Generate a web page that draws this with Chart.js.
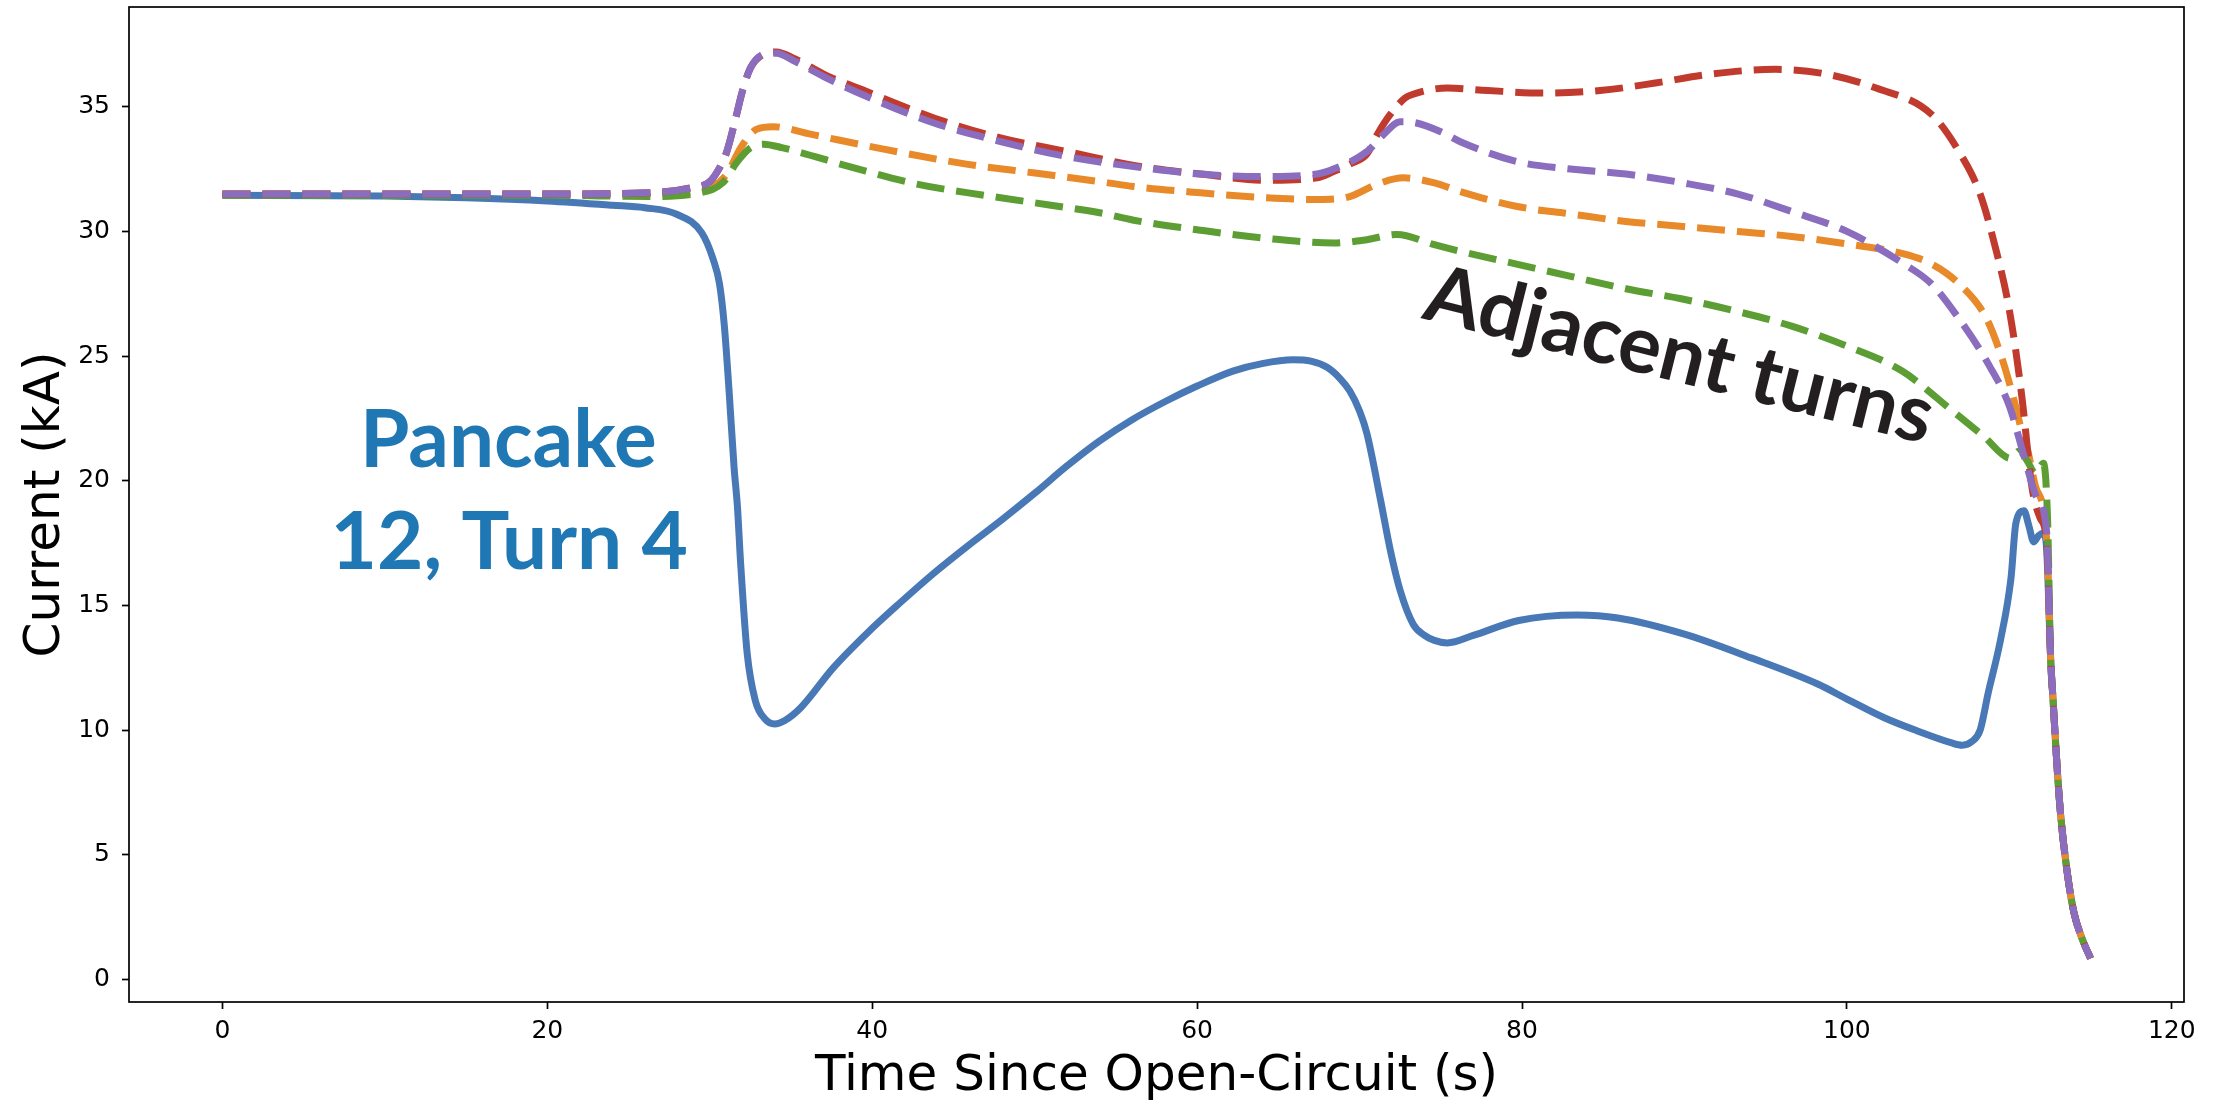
<!DOCTYPE html>
<html>
<head>
<meta charset="utf-8">
<title>Current after open-circuit</title>
<script src="https://cdn.jsdelivr.net/npm/chart.js@4.4.1/dist/chart.umd.min.js"></script>
<style>
  html, body { margin: 0; padding: 0; background: #fff; }
  canvas { display: block; }
</style>
</head>
<body>
<canvas id="chart" width="2218" height="1104"></canvas>
<script>
// tick labels
const xTicks = [0, 20, 40, 60, 80, 100, 120];
const yTicks = [0, 5, 10, 15, 20, 25, 30, 35];

// Pancake 12, Turn 4 (solid blue)
const tPancake = [0, 10, 15, 20, 24, 26, 28, 29.5, 30.2, 30.6, 30.9, 31.2, 31.5, 31.7, 31.9, 32.3, 32.8, 33.4, 34.0, 34.6,
  35.6, 37.6, 39.7, 41.7, 43.8, 45.8, 48, 50, 52, 54, 56, 58.1, 60, 62.2, 64, 65.9, 67, 68, 68.8, 69.4,
  70, 70.45, 71.3, 71.9, 72.5, 73.3, 74.0, 74.6, 75.4, 77.0, 79.8, 83.4, 85.9, 90, 94.1, 98.2, 100, 102.3, 104.3, 106.4,
  107.1, 107.7, 108.2, 108.7, 109.45, 110.1, 110.4, 110.9, 111.2, 111.5, 111.8, 112.1, 112.3,
  112.54, 112.7, 112.95, 113.15, 113.56, 113.97, 114.5, 115.0];
const iPancake = [31.45, 31.42, 31.35, 31.22, 31.05, 30.95, 30.68, 29.95, 28.9, 27.9, 26.2, 23.5, 20.5, 19.0, 16.7, 13.1, 11.2, 10.45, 10.25, 10.38,
  10.9, 12.5, 13.9, 15.1, 16.3, 17.35, 18.45, 19.5, 20.6, 21.6, 22.45, 23.2, 23.8, 24.4, 24.7, 24.85, 24.8, 24.55, 24.1, 23.6,
  22.8, 21.9, 19.2, 17.2, 15.6, 14.25, 13.8, 13.6, 13.5, 13.8, 14.4, 14.62, 14.5, 13.85, 12.9, 11.85, 11.25, 10.5, 9.98, 9.5,
  9.4, 9.55, 10.0, 11.5, 13.6, 16.1, 18.3, 18.8, 18.2, 17.55, 17.8, 17.9, 17.2,
  12.9, 11.1, 8.4, 6.65, 4.3, 2.7, 1.6, 0.85];

// common final discharge of the adjacent turns
const tTail = [112.54, 112.7, 112.95, 113.15, 113.56, 113.97, 114.5, 115.0];
const iTail = [12.9, 11.1, 8.4, 6.65, 4.3, 2.7, 1.6, 0.85];

// adjacent turns (dashed)
const tOrange = [0, 20, 26.3, 29, 30.2, 31.05, 31.9, 32.9, 33.9, 36.2, 40.7, 45.8, 49.9, 54.0, 56.1, 60.2, 64.3, 67.4, 69.4, 71.1,
  72.7, 74.6, 76.2, 79.7, 83.0, 86.4, 89.9, 93.3, 96.6, 100, 103.5, 105.2, 106.9, 108.6, 109.6, 110.3, 110.8, 111.1, 111.6, 112.3];
const iOrange = [31.5, 31.5, 31.52, 31.6, 31.8, 32.3, 33.35, 34.1, 34.2, 33.9, 33.3, 32.7, 32.35, 32.0, 31.8, 31.55, 31.35, 31.28, 31.4, 31.9,
  32.15, 31.95, 31.6, 31.0, 30.7, 30.4, 30.2, 30.0, 29.8, 29.5, 29.1, 28.7, 27.9, 26.5, 24.8, 23.2, 21.9, 21.3, 19.8, 17.6];

const tGreen = [0, 20, 26.3, 29.4, 30.8, 31.7, 32.5, 33.3, 34.5, 38.6, 42.75, 46.9, 51.0, 54.0, 56.1, 60.2, 64.3, 68.4, 70.45, 72.3,
  74.6, 76.2, 79.6, 83.0, 86.4, 89.8, 93.2, 96.6, 100.0, 103.4, 106.5, 108.4, 110.1, 110.6, 111.1, 111.6, 112.1, 112.35];
const iGreen = [31.45, 31.45, 31.4, 31.55, 31.95, 32.8, 33.35, 33.5, 33.35, 32.6, 31.9, 31.45, 31.05, 30.75, 30.45, 30.05, 29.72, 29.54, 29.67, 29.88,
  29.47, 29.2, 28.7, 28.2, 27.7, 27.3, 26.8, 26.2, 25.4, 24.4, 22.8, 21.8, 20.9, 21.2, 20.8, 20.3, 20.7, 18.5];

const tRed = [0, 20, 26.3, 28.8, 30.0, 30.6, 31.05, 31.6, 32.0, 32.5, 33.3, 34.1, 35.15, 37.2, 39.7, 43.8, 47.9, 52.0, 56.1, 60.2,
  64.3, 67.4, 68.4, 69.4, 70.45, 71.1, 71.9, 72.8, 73.3, 74.5, 75.4, 77.9, 81.3, 84.8, 88.2, 91.5, 95.6, 98.4, 101.8, 105.2,
  106.9, 108.2, 109.2, 109.9, 110.4, 110.8, 111.4, 111.9, 112.3];
const iRed = [31.5, 31.5, 31.55, 31.75, 32.0, 32.55, 33.2, 34.55, 35.6, 36.55, 37.1, 37.2, 36.95, 36.25, 35.6, 34.55, 33.75, 33.2, 32.65, 32.3,
  32.05, 32.15, 32.4, 32.7, 33.1, 33.9, 34.7, 35.35, 35.5, 35.7, 35.75, 35.65, 35.55, 35.65, 35.95, 36.3, 36.5, 36.35, 35.75, 34.7,
  33.2, 31.5, 29.2, 27.2, 25.2, 23.2, 19.7, 18.5, 17.5];

const tPurple = [0, 20, 26.3, 28.8, 30.0, 30.6, 31.05, 31.6, 32.0, 32.5, 33.3, 34.1, 35.15, 37.2, 39.7, 43.8, 47.9, 52.0, 56.1, 60.2,
  64.3, 67.4, 68.4, 70.45, 71.5, 72.5, 73.5, 75.0, 76.2, 79.7, 83.0, 86.4, 89.9, 93.3, 96.6, 100, 103.5, 105.2, 106.9, 108.6,
  110.0, 110.9, 111.7, 112.3];
const iPurple = [31.5, 31.5, 31.55, 31.74, 32.0, 32.55, 33.2, 34.55, 35.6, 36.55, 37.1, 37.15, 36.85, 36.15, 35.4, 34.35, 33.6, 33.0, 32.6, 32.3,
  32.2, 32.3, 32.5, 33.2, 33.9, 34.4, 34.35, 34.0, 33.6, 32.8, 32.5, 32.3, 31.95, 31.5, 30.8, 30.0, 28.7, 27.9, 26.5, 24.8,
  23.0, 21.0, 19.3, 17.9];

function points(t, v) {
  return t.map((x, k) => ({ x: x, y: v[k] }));
}

function line(t, v, color, dashed, order) {
  return {
    data: points(t, v),
    borderColor: color,
    borderWidth: 7,
    borderDash: dashed ? [28, 12] : [],
    borderJoinStyle: 'round',
    pointRadius: 0,
    fill: false,
    cubicInterpolationMode: 'monotone',
    order: order,
  };
}

// box around the axes + text labels
const frame = {
  id: 'frame',
  afterDraw(chart) {
    const { ctx, chartArea: a } = chart;
    ctx.save();
    ctx.strokeStyle = '#000';
    ctx.lineWidth = 1.7;
    ctx.strokeRect(a.left, a.top, a.right - a.left, a.bottom - a.top);
    ctx.restore();
  },
  afterDatasetsDraw(chart) {
    const { ctx, scales: { x, y } } = chart;
    ctx.save();
    ctx.textAlign = 'center';
    ctx.textBaseline = 'alphabetic';
    ctx.fillStyle = '#1f77b4';
    ctx.font = 'bold 80px Lato';
    ctx.fillText('Pancake', x.getPixelForValue(17.6), y.getPixelForValue(20.56));
    ctx.fillText('12, Turn 4', x.getPixelForValue(17.66), y.getPixelForValue(16.46));

    ctx.translate(x.getPixelForValue(89.3), y.getPixelForValue(24.0));
    ctx.rotate(14 * Math.PI / 180);
    ctx.fillStyle = '#231f20';
    ctx.font = 'bold 80px Lato';
    ctx.fillText('Adjacent turns', 0, 0);
    ctx.restore();
  }
};

function noPad(s) {
  s.paddingLeft = 0;
  s.paddingRight = 0;
  s.paddingTop = 0;
  s.paddingBottom = 0;
}

Chart.defaults.font.family = "'DejaVu Sans', sans-serif";
Chart.defaults.color = '#000';

const ctx = document.getElementById('chart').getContext('2d');
new Chart(ctx, {
  type: 'line',
  data: {
    datasets: [
      line(tPancake, iPancake, '#4878b6', false, 5),
      line(tOrange.concat(tTail), iOrange.concat(iTail), '#e8892a', true, 4),
      line(tGreen.concat(tTail), iGreen.concat(iTail), '#5c9e33', true, 3),
      line(tRed.concat(tTail), iRed.concat(iTail), '#c03b2e', true, 2),
      line(tPurple.concat(tTail), iPurple.concat(iTail), '#8a6dbf', true, 1),
    ],
  },
  options: {
    responsive: false,
    animation: false,
    devicePixelRatio: 1,
    layout: { padding: { left: 0, top: 7, right: 34, bottom: 0 } },
    plugins: { legend: { display: false }, tooltip: { enabled: false } },
    scales: {
      x: {
        type: 'linear',
        min: -5.75,
        max: 120.75,
        afterBuildTicks: (s) => { s.ticks = xTicks.map(v => ({ value: v })); },
        afterFit: (s) => { s.height = 102; noPad(s); },
        border: { display: false },
        grid: { drawOnChartArea: false, drawTicks: true, tickLength: 7, tickWidth: 1.7, tickColor: '#000' },
        ticks: { font: { size: 25 }, padding: 7, maxRotation: 0 },
        title: { display: true, text: 'Time Since Open-Circuit (s)', font: { size: 50, lineHeight: 1.08 }, padding: { top: 0, bottom: 0 } },
      },
      y: {
        type: 'linear',
        min: -0.9,
        max: 39,
        afterBuildTicks: (s) => { s.ticks = yTicks.map(v => ({ value: v })); },
        afterFit: (s) => { s.width = 129; noPad(s); },
        border: { display: false },
        grid: { drawOnChartArea: false, drawTicks: true, tickLength: 7, tickWidth: 1.7, tickColor: '#000' },
        ticks: { font: { size: 25 }, padding: 12 },
        title: { display: true, text: 'Current (kA)', font: { size: 50 }, padding: { top: 16, bottom: 0 } },
      },
    },
  },
  plugins: [frame],
});
</script>
</body>
</html>
